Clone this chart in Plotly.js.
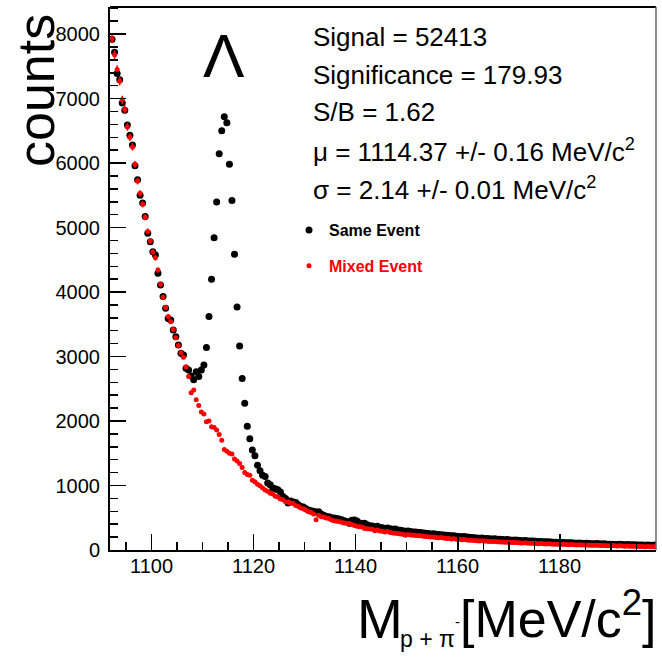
<!DOCTYPE html>
<html>
<head>
<meta charset="utf-8">
<script src="https://cdn.plot.ly/plotly-3.0.1.min.js"></script>
<style>html,body{margin:0;padding:0;background:#fff;}#chart{width:662px;height:657px;}</style>
</head>
<body>
<div id="chart"></div>
<script>
// Bin centres of the invariant-mass histogram [MeV/c^2]
const massBins = [
1092.25,1092.75,1093.25,1093.75,1094.25,1094.75,1095.25,1095.75,1096.25,1096.75,
1097.25,1097.75,1098.25,1098.75,1099.25,1099.75,1100.25,1100.75,1101.25,1101.75,
1102.25,1102.75,1103.25,1103.75,1104.25,1104.75,1105.25,1105.75,1106.25,1106.75,
1107.25,1107.75,1108.25,1108.75,1109.25,1109.75,1110.25,1110.75,1111.25,1111.75,
1112.25,1112.75,1113.25,1113.75,1114.25,1114.75,1115.25,1115.75,1116.25,1116.75,
1117.25,1117.75,1118.25,1118.75,1119.25,1119.75,1120.25,1120.75,1121.25,1121.75,
1122.25,1122.75,1123.25,1123.75,1124.25,1124.75,1125.25,1125.75,1126.25,1126.75,
1127.25,1127.75,1128.25,1128.75,1129.25,1129.75,1130.25,1130.75,1131.25,1131.75,
1132.25,1132.75,1133.25,1133.75,1134.25,1134.75,1135.25,1135.75,1136.25,1136.75,
1137.25,1137.75,1138.25,1138.75,1139.25,1139.75,1140.25,1140.75,1141.25,1141.75,
1142.25,1142.75,1143.25,1143.75,1144.25,1144.75,1145.25,1145.75,1146.25,1146.75,
1147.25,1147.75,1148.25,1148.75,1149.25,1149.75,1150.25,1150.75,1151.25,1151.75,
1152.25,1152.75,1153.25,1153.75,1154.25,1154.75,1155.25,1155.75,1156.25,1156.75,
1157.25,1157.75,1158.25,1158.75,1159.25,1159.75,1160.25,1160.75,1161.25,1161.75,
1162.25,1162.75,1163.25,1163.75,1164.25,1164.75,1165.25,1165.75,1166.25,1166.75,
1167.25,1167.75,1168.25,1168.75,1169.25,1169.75,1170.25,1170.75,1171.25,1171.75,
1172.25,1172.75,1173.25,1173.75,1174.25,1174.75,1175.25,1175.75,1176.25,1176.75,
1177.25,1177.75,1178.25,1178.75,1179.25,1179.75,1180.25,1180.75,1181.25,1181.75,
1182.25,1182.75,1183.25,1183.75,1184.25,1184.75,1185.25,1185.75,1186.25,1186.75,
1187.25,1187.75,1188.25,1188.75,1189.25,1189.75,1190.25,1190.75,1191.25,1191.75,
1192.25,1192.75,1193.25,1193.75,1194.25,1194.75,1195.25,1195.75,1196.25,1196.75,
1197.25,1197.75,1198.25,1198.75
];

// Same-event counts (black)
const sameEvent = [
7920,7720,7390,7290,6930,6820,6590,6430,6280,5960,
5740,5500,5380,5170,4910,4780,4625,4575,4290,4110,
3930,3750,3590,3565,3410,3305,3180,3050,3025,2820,
2790,2700,2640,2765,2690,2790,2870,3140,3620,4200,
4840,5395,6145,6500,6720,6625,5980,5420,4585,3770,
3165,2660,2275,1920,1725,1550,1460,1315,1230,1160,
1140,1040,1010,960,950,935,900,830,800,730,
760,745,735,700,675,665,640,620,610,600,
590,595,560,540,520,515,500,495,490,480,
470,455,440,415,460,465,450,420,410,415,
390,375,372,360,370,350,345,335,340,330,
320,325,310,305,300,290,295,285,280,278,
270,272,262,260,255,250,252,245,240,238,
232,228,225,220,222,215,210,205,208,200,
196,195,190,188,184,186,180,178,175,172,
174,168,165,162,160,161,156,152,154,150,
146,144,147,140,138,139,134,131,133,128,
126,127,123,120,122,118,116,118,113,111,
112,108,106,108,104,102,104,100,98,97,
99,95,93,95,91,89,91,87,86,88,
84,83,85,81,80,82,78,79,77,75,
78,74,73,76
];

// Mixed-event counts (red, normalised)
const mixedEvent = [
7930,7680,7450,7270,6980,6830,6560,6400,6250,5980,
5720,5530,5360,5160,4940,4790,4620,4530,4340,4120,
3920,3760,3620,3540,3420,3290,3170,3060,2990,2840,
2690,2440,2480,2330,2240,2140,2110,1990,2000,1910,
1900,1860,1790,1700,1560,1530,1500,1490,1410,1380,
1340,1280,1200,1170,1160,1080,1060,1020,995,960,
930,910,880,870,835,820,790,780,750,745,
730,720,690,680,650,640,620,595,580,560,
470,540,515,510,495,490,465,455,445,440,
430,420,415,410,395,380,370,360,355,335,
330,325,320,300,310,295,290,280,285,270,
265,260,255,250,245,230,240,232,228,225,
220,222,212,210,205,200,202,195,190,192,
185,180,178,172,175,168,165,160,162,155,
152,150,148,145,140,142,138,135,133,130,
132,127,125,123,120,122,118,115,117,112,
110,108,111,105,103,104,100,98,101,96,
94,95,92,90,91,88,87,89,85,83,
84,80,79,81,77,76,78,74,73,72,
74,70,69,71,67,66,68,64,63,65,
61,60,62,58,57,59,55,56,54,52,
55,51,50,53
];

const xTickVals = [1100, 1120, 1140, 1160, 1180];
const yTickVals = [0, 1000, 2000, 3000, 4000, 5000, 6000, 7000, 8000];
const fitLines = [
  'Signal = 52413',
  'Significance = 179.93',
  'S/B = 1.62',
  'μ = 1114.37 +/- 0.16 MeV/c<sup>2</sup>',
  'σ = 2.14 +/- 0.01 MeV/c<sup>2</sup>'
];

// --- layout helpers (pixel -> paper) ---
const M = {l: 110, r: 6, t: 7, b: 107};
const W = 662, H = 657;
const PW = W - M.l - M.r, PH = H - M.t - M.b;
const px = v => (v - M.l) / PW;
const py = v => (H - M.b - v) / PH;
const FONT = 'Liberation Sans, Arial, Helvetica, sans-serif';

const traces = [
  {
    x: massBins, y: sameEvent, type: 'scatter', mode: 'markers',
    name: '<b>Same Event</b>', legendgroup: 'a',
    marker: {color: '#000000', size: 7}
  },
  {
    x: massBins, y: mixedEvent, type: 'scatter', mode: 'markers',
    name: '<b><span style="color:#ff0000">Mixed Event</span></b>', legendgroup: 'b',
    marker: {color: '#ff0000', size: 5},
    error_y: {type: 'percent', value: 0.9, width: 0, thickness: 1.5, color: '#ff0000'}
  }
];

const lineY = [37, 75, 112, 150, 188];
const annotations = fitLines.map((t, i) => ({
  xref: 'paper', yref: 'paper', x: px(311), y: py(lineY[i]),
  xanchor: 'left', yanchor: 'middle', showarrow: false, text: t,
  font: {family: FONT, size: 26, color: '#000'}
}));
// x tick labels, placed on the x scale just under the axis (ROOT style)
xTickVals.forEach(v => annotations.push({
  xref: 'x', yref: 'paper', x: v, y: py(566), xanchor: 'center', yanchor: 'middle',
  showarrow: false, text: String(v), font: {family: FONT, size: 20, color: '#000'}
}));
annotations.push(
  {xref: 'paper', yref: 'paper', x: px(224), y: py(55), xanchor: 'center', yanchor: 'middle',
   showarrow: false, text: 'Λ', font: {family: FONT, size: 62, color: '#000'}},
  {xref: 'paper', yref: 'paper', x: px(36), y: py(91), xanchor: 'center', yanchor: 'middle',
   showarrow: false, textangle: -90, text: 'counts', font: {family: FONT, size: 52, color: '#000'}},
  {xref: 'paper', yref: 'paper', x: px(355), y: py(619), xanchor: 'left', yanchor: 'middle',
   showarrow: false, text: 'M', font: {family: FONT, size: 55, color: '#000'}},
  {xref: 'paper', yref: 'paper', x: px(398), y: py(639), xanchor: 'left', yanchor: 'middle',
   showarrow: false, text: 'p + π', font: {family: FONT, size: 23, color: '#000'}},
  {xref: 'paper', yref: 'paper', x: px(457), y: py(621), xanchor: 'center', yanchor: 'middle',
   showarrow: false, text: '-', font: {family: FONT, size: 15, color: '#000'}},
  {xref: 'paper', yref: 'paper', x: px(659), y: py(615), xanchor: 'right', yanchor: 'middle',
   showarrow: false, text: '[MeV/c<sup>2</sup>]', font: {family: FONT, size: 52, color: '#000'}}
);

const layout = {
  width: W, height: H,
  margin: M,
  paper_bgcolor: '#ffffff', plot_bgcolor: '#ffffff',
  font: {family: FONT, color: '#000'},
  showlegend: true,
  legend: {
    x: px(289), y: py(213), xanchor: 'left', yanchor: 'top',
    bgcolor: 'rgba(0,0,0,0)', borderwidth: 0,
    font: {family: FONT, size: 16, color: '#000'},
    traceorder: 'grouped', tracegroupgap: 12, itemwidth: 30
  },
  xaxis: {
    range: [1091.85, 1198.85], showgrid: false, zeroline: false,
    showline: true, linecolor: '#000', linewidth: 2,
    tickmode: 'array', tickvals: xTickVals, showticklabels: false,
    ticks: 'inside', ticklen: 16, tickwidth: 1.5, tickcolor: '#000',
    minor: {dtick: 5, tick0: 1100, ticks: 'inside', ticklen: 8, tickwidth: 1.5, tickcolor: '#000', showgrid: false}
  },
  yaxis: {
    range: [0, 8420], showgrid: false, zeroline: false,
    showline: true, linecolor: '#000', linewidth: 2,
    tickmode: 'array', tickvals: yTickVals, ticktext: yTickVals.map(String),
    ticks: 'inside', ticklen: 16, tickwidth: 1.5, tickcolor: '#000',
    ticklabelstandoff: 4,
    tickfont: {family: FONT, size: 20, color: '#000'},
    minor: {dtick: 200, tick0: 0, ticks: 'inside', ticklen: 8, tickwidth: 1.5, tickcolor: '#000', showgrid: false}
  },
  shapes: [
    {type: 'line', xref: 'paper', yref: 'paper', x0: 0, x1: 1, y0: 1, y1: 1, line: {color: '#000', width: 2}},
    {type: 'line', xref: 'paper', yref: 'paper', x0: 1, x1: 1, y0: 0, y1: 1, line: {color: '#666', width: 1.5}}
  ],
  annotations: annotations
};

Plotly.newPlot('chart', traces, layout, {displayModeBar: false, staticPlot: true});
</script>
</body>
</html>
